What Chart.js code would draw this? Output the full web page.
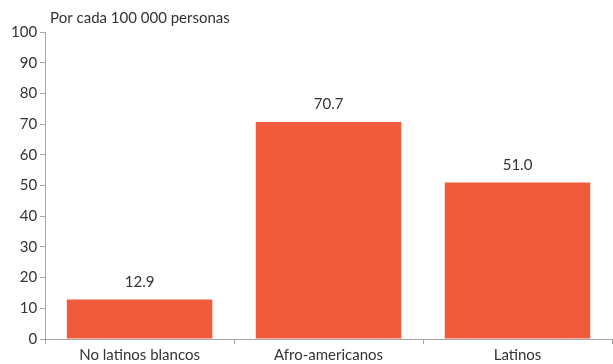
<!DOCTYPE html>
<html>
<head>
<meta charset="utf-8">
<script src="https://cdn.jsdelivr.net/npm/chart.js@4"></script>
<style>
  html, body { margin: 0; padding: 0; background: #fff; }
  #wrap { width: 613px; height: 364px; position: relative; }
</style>
</head>
<body>
<div id="wrap"><canvas id="rates"></canvas></div>
<script>
// data
var categories = ['No latinos blancos', 'Afro-americanos', 'Latinos'];
var rates = [12.9, 70.7, 51.0];
var unitLabel = 'Por cada 100 000 personas';

var fontFamily = "'Lato', 'Open Sans', sans-serif";
var axisGray = '#a6a6a6';
var textColor = '#333333';

// value labels above bars + unit caption above the y axis
var annotate = {
    id: 'annotate',
    afterDatasetsDraw: function(chart) {
        var ctx = chart.ctx;
        var meta = chart.getDatasetMeta(0);
        ctx.save();
        ctx.fillStyle = textColor;
        ctx.font = '15px ' + fontFamily;
        ctx.textAlign = 'center';
        ctx.textBaseline = 'bottom';
        meta.data.forEach(function(bar, i) {
            ctx.fillText(rates[i].toFixed(1), bar.x, bar.y - 10);
        });
        ctx.textAlign = 'left';
        ctx.textBaseline = 'alphabetic';
        ctx.fillText(unitLabel, chart.chartArea.left + 5, 23);
        ctx.restore();
    }
};

new Chart(document.getElementById('rates'), {
    type: 'bar',
    data: {
        labels: categories,
        datasets: [{
            data: rates,
            backgroundColor: '#f15a3b',
            categoryPercentage: 0.77,
            barPercentage: 1.0
        }]
    },
    options: {
        responsive: true,
        maintainAspectRatio: false,
        animation: false,
        layout: { padding: { top: 32, right: 1, left: 8, bottom: -3 } },
        plugins: {
            legend: { display: false },
            tooltip: { enabled: false }
        },
        scales: {
            x: {
                grid: { display: true, drawOnChartArea: false, drawTicks: true, tickLength: 5, color: axisGray, offset: true },
                border: { color: axisGray },
                ticks: { color: textColor, font: { family: fontFamily, size: 15, lineHeight: 1 }, padding: 4, maxRotation: 0 }
            },
            y: {
                min: 0,
                max: 100,
                grid: { display: true, drawOnChartArea: false, drawTicks: true, tickLength: 5, color: axisGray },
                border: { color: axisGray },
                ticks: { stepSize: 10, color: textColor, font: { family: fontFamily, size: 15 }, padding: 3 }
            }
        }
    },
    plugins: [annotate]
});
</script>
</body>
</html>
